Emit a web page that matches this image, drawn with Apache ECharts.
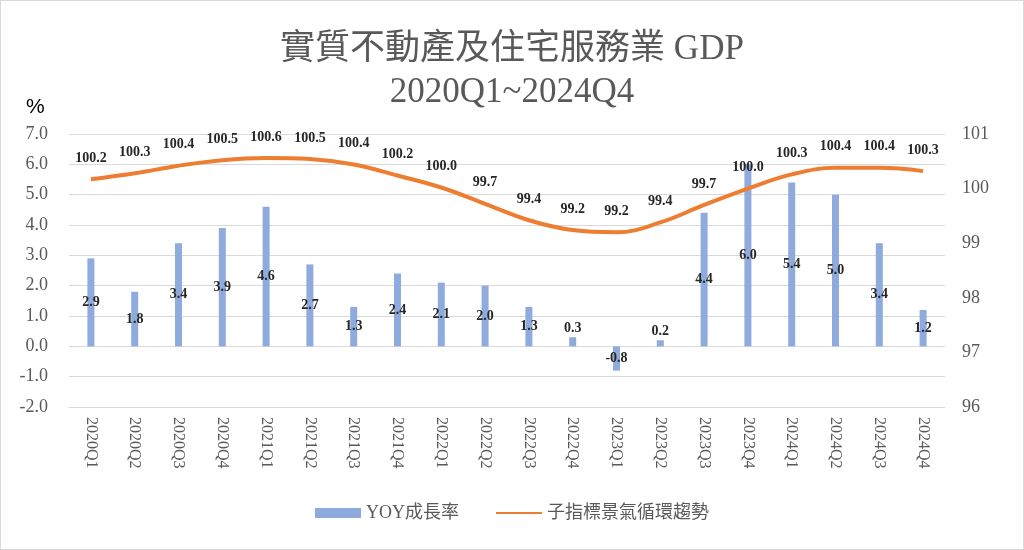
<!DOCTYPE html>
<html><head><meta charset="utf-8">
<script src="https://cdn.jsdelivr.net/npm/echarts@6/dist/echarts.min.js"></script>
<style>
html,body{margin:0;padding:0;background:#fff;}
#c{width:1022px;height:548px;border:1px solid #D9D9D9;}
</style></head>
<body><div id="c"></div>
<script>
const categories = ['2020Q1','2020Q2','2020Q3','2020Q4','2021Q1','2021Q2','2021Q3','2021Q4','2022Q1','2022Q2','2022Q3','2022Q4','2023Q1','2023Q2','2023Q3','2023Q4','2024Q1','2024Q2','2024Q3','2024Q4'];
const yoyGrowth = [2.9,1.8,3.4,3.9,4.6,2.7,1.3,2.4,2.1,2.0,1.3,0.3,-0.8,0.2,4.4,6.0,5.4,5.0,3.4,1.2];
const cycleTrend = [100.17,100.28,100.42,100.52,100.56,100.54,100.44,100.24,100.02,99.72,99.42,99.24,99.20,99.38,99.70,100.00,100.26,100.38,100.38,100.32];
const leftTicks = {min:-2, max:7, interval:1};
const rightTicks = {min:96, max:101, interval:1};

const serif = '"Liberation Serif","Noto Sans CJK TC",serif';
const barData = yoyGrowth.map(v => (v > 0 && v < 1) ? {value:v, label:{position:'top', distance:2}} : v);
const chart = echarts.init(document.getElementById('c'));
chart.setOption({
  animation:false,
  title:[{
    text:'實質不動產及住宅服務業 GDP\n2020Q1~2024Q4',
    left:'center', top:22,
    textStyle:{fontFamily:serif, fontSize:35, fontWeight:'normal', color:'#595959', lineHeight:43}
  },{
    text:'%', left:20, top:91,
    textStyle:{fontFamily:'"Liberation Sans",Arial,sans-serif', fontSize:21, fontWeight:'normal', color:'#000'}
  }],
  grid:{left:68, right:78, top:133, bottom:142, containLabel:false},
  legend:{
    bottom:22, left:'center', itemGap:36, itemWidth:46, itemHeight:10,
    textStyle:{fontFamily:serif, fontSize:18, color:'#595959'},
    data:[{name:'YOY成長率', icon:'rect'},{name:'子指標景氣循環趨勢', itemStyle:{opacity:0}}]
  },
  xAxis:{
    type:'category', data:categories,
    axisLine:{show:true, onZero:false, lineStyle:{color:'#D9D9D9'}},
    axisTick:{show:false},
    axisLabel:{rotate:-90, fontFamily:serif, fontSize:16, color:'#595959', margin:10}
  },
  yAxis:[{
    type:'value', min:leftTicks.min, max:leftTicks.max, interval:leftTicks.interval,
    axisLine:{show:false}, axisTick:{show:false},
    splitLine:{lineStyle:{color:'#D9D9D9', width:1}},
    axisLabel:{formatter:v=>v.toFixed(1), fontFamily:serif, fontSize:18, color:'#595959', margin:21}
  },{
    type:'value', min:rightTicks.min, max:rightTicks.max, interval:rightTicks.interval,
    axisLine:{show:false}, axisTick:{show:false}, splitLine:{show:false},
    axisLabel:{fontFamily:serif, fontSize:18, color:'#595959', margin:17}
  }],
  series:[{
    name:'YOY成長率', type:'bar', data:barData, yAxisIndex:0, barWidth:7,
    itemStyle:{color:'#8FAADC'},
    label:{show:true, position:'inside', formatter:p=>p.value.toFixed(1),
      fontFamily:serif, fontSize:14, fontWeight:'bold', color:'#262626'},
    z:2
  },{
    name:'子指標景氣循環趨勢', type:'line', data:cycleTrend, yAxisIndex:1,
    smooth:0.4, symbol:'circle', symbolSize:0.1, showSymbol:true,
    lineStyle:{color:'#ED7D31', width:4}, itemStyle:{color:'#ED7D31'},
    label:{show:true, position:'top', distance:14, formatter:p=>p.value.toFixed(1),
      fontFamily:serif, fontSize:14, fontWeight:'bold', color:'#262626'},
    z:3
  }]
});
</script></body></html>
